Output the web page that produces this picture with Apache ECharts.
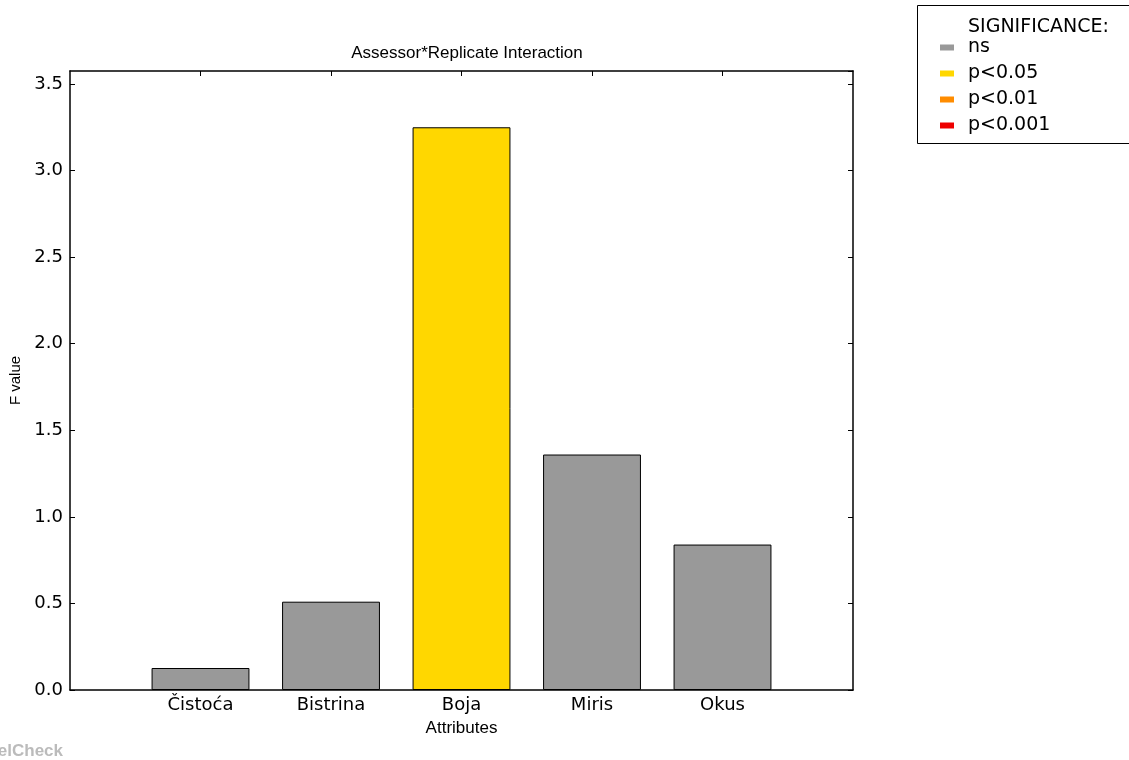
<!DOCTYPE html>
<html>
<head>
<meta charset="utf-8">
<script src="https://cdn.jsdelivr.net/npm/echarts@6/dist/echarts.min.js"></script>
<style>html,body{margin:0;padding:0;background:#fff}#c{width:1129px;height:760px}</style>
</head>
<body>
<div id="c"></div>
<script>
const categories = ['Čistoća', 'Bistrina', 'Boja', 'Miris', 'Okus'];
const fValues = [0.127, 0.51, 3.25, 1.36, 0.84];
const significance = ['ns', 'ns', 'p<0.05', 'ns', 'ns'];
const sigLevels = ['ns', 'p<0.05', 'p<0.01', 'p<0.001'];
const sigColors = ['#999999', '#FFD700', '#FF8C00', '#EE0000'];
const yTicks = [0, 0.5, 1.0, 1.5, 2.0, 2.5, 3.0, 3.5];

const padded = [''].concat(categories, ['']);
const chart = echarts.init(document.getElementById('c'));
const tickFn = (i) => i > 0 && i < padded.length - 1;
const series = sigLevels.map((lvl, k) => ({
  name: lvl,
  type: 'bar',
  stack: 'all',
  barWidth: '75%',
  itemStyle: { color: sigColors[k], borderColor: '#000', borderWidth: 1 },
  data: padded.map((c, i) => (i > 0 && i < padded.length - 1 && significance[i - 1] === lvl) ? fValues[i - 1] : '-'),
  silent: true
}));
const axLine = { show: true, onZero: false, lineStyle: { color: '#000', width: 1.5 } };
const tickStyle = { show: true, inside: true, length: 5, lineStyle: { color: '#000', width: 1 } };
chart.setOption({
  animation: false,
  title: {
    text: 'Assessor*Replicate Interaction',
    left: 462, top: 40, textAlign: 'center',
    textStyle: { fontFamily: 'Liberation Sans', fontSize: 17, fontWeight: 'normal', color: '#000' }
  },
  legend: {
    orient: 'vertical', left: 935, top: 33,
    itemWidth: 14, itemHeight: 6, itemGap: 7,
    icon: 'rect',
    data: sigLevels,
    itemStyle: { borderWidth: 0 },
    textStyle: { fontFamily: 'DejaVu Sans', fontSize: 19, lineHeight: 18, color: '#000', padding: [0, 0, 0, 9] },
    selectedMode: false
  },
  grid: { left: 70, right: 276, top: 71, bottom: 70, containLabel: false },
  xAxis: [{
    type: 'category', data: padded, boundaryGap: false, position: 'bottom',
    axisLine: axLine,
    axisTick: Object.assign({}, tickStyle, { interval: tickFn, alignWithLabel: true }),
    axisLabel: { interval: 0, margin: 6, fontFamily: 'DejaVu Sans', fontSize: 18, color: '#000' },
    name: 'Attributes', nameLocation: 'middle', nameGap: 30,
    nameTextStyle: { fontFamily: 'Liberation Sans', fontSize: 17, color: '#000' },
    splitLine: { show: false }
  }, {
    type: 'category', data: padded, boundaryGap: false, position: 'top',
    axisLine: axLine,
    axisTick: Object.assign({}, tickStyle, { interval: tickFn }),
    axisLabel: { show: false },
    splitLine: { show: false }
  }],
  yAxis: [{
    type: 'value', min: 0, max: 3.575, interval: 0.5, position: 'left',
    axisLine: axLine,
    axisTick: tickStyle,
    axisLabel: { margin: 7, fontFamily: 'DejaVu Sans', fontSize: 18, color: '#000', showMaxLabel: false,
      formatter: v => yTicks.some(t => Math.abs(t - v) < 1e-9) ? v.toFixed(1) : '' },
    name: 'F value', nameLocation: 'middle', nameGap: 44, nameRotate: 90,
    nameTextStyle: { fontFamily: 'Liberation Sans', fontSize: 15, color: '#000' },
    splitLine: { show: false }
  }, {
    type: 'value', min: 0, max: 3.575, interval: 0.5, position: 'right',
    axisLine: axLine,
    axisTick: tickStyle,
    axisLabel: { show: false },
    splitLine: { show: false }
  }],
  series: series,
  graphic: [
    { type: 'rect', shape: { x: 917.5, y: 5.5, width: 240, height: 138 }, style: { fill: 'none', stroke: '#000', lineWidth: 1 }, z: 10 },
    { type: 'text', left: 968, top: 18, style: { text: 'SIGNIFICANCE:', font: '19px "DejaVu Sans"', fill: '#000' }, z: 10 },
    { type: 'text', right: 1066, top: 743, style: { text: 'PanelCheck', font: 'bold 17px "Liberation Sans"', fill: '#bbbbbb', textAlign: 'right' }, z: 10 }
  ]
});
</script>
</body>
</html>
